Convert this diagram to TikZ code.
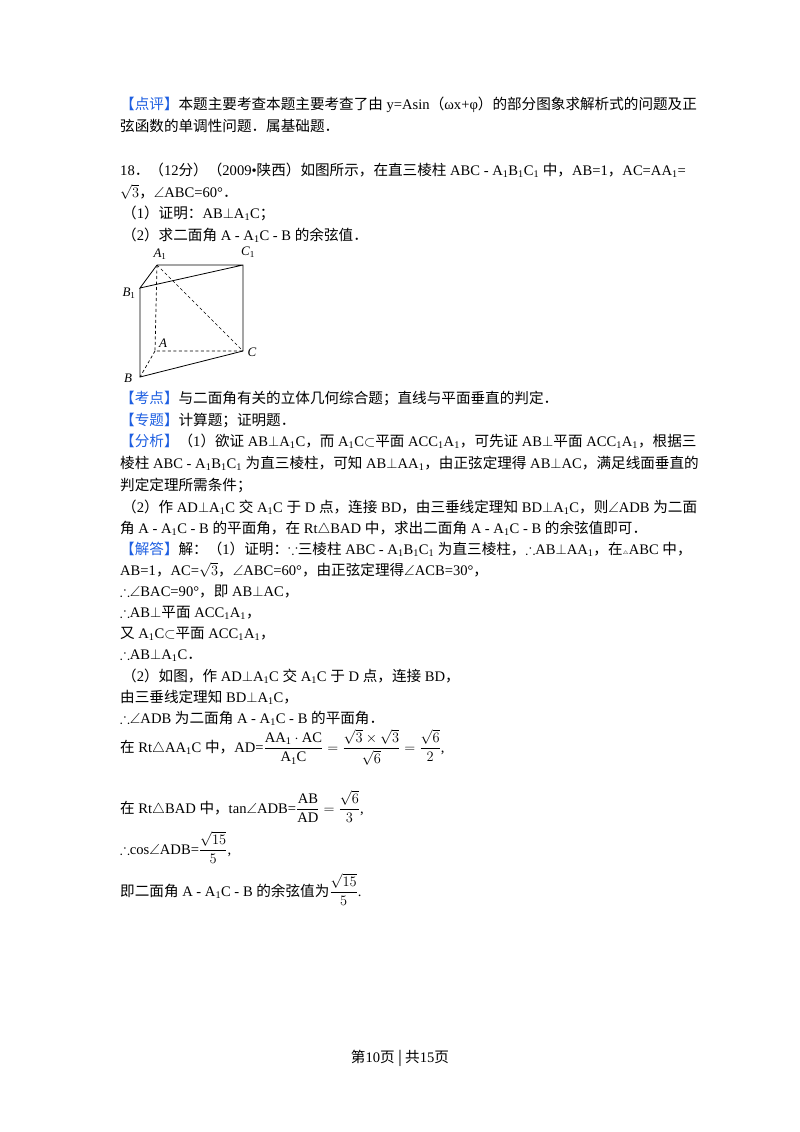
\documentclass[tikz,border=0pt]{standalone}
\usepackage{amsmath,amssymb}
\usepackage{fontspec}
\setmainfont{Liberation Serif}
\newfontfamily\cjk{Noto Sans CJK SC}
\newcommand\z[1]{{\cjk #1}}
\newcommand\Ao{A\textsubscript{1}}
\newcommand\Bo{B\textsubscript{1}}
\newcommand\Co{C\textsubscript{1}}
\newcommand\pp{$\perp$}
\newcommand\an{$\angle$}
\newcommand\so{$\therefore$}
\newcommand\bc{$\because$}
\newcommand\sbs{$\subset$}
\definecolor{hb}{RGB}{30,95,225}
\newcommand\tg[1]{\textcolor{hb}{\z{#1}}}
\begin{document}
\begin{tikzpicture}[x=1pt,y=-1pt,
  ln/.style={anchor=base west,inner sep=0pt,font=\fontsize{14.6}{16}\selectfont},
  edge/.style={line width=0.8pt},
  hid/.style={line width=0.7pt,dashed,dash pattern=on 3pt off 2.5pt},
  lab/.style={inner sep=0pt,font=\fontsize{13}{14}\selectfont\itshape}]
\useasboundingbox (0,0) rectangle (800,1132);
\node[ln] (l1) at (120,109) {\tg{【点评】}\z{本题主要考查本题主要考查了由} y=Asin\z{（}ωx+φ\z{）}\z{的部分图象求解析式的问题及正}};
\node[ln] (l2) at (120,131) {\z{弦函数的单调性问题．属基础题．}};
\node[ln] (l3) at (120,175) {18\z{．（}12\z{分）（}2009•\z{陕西）如图所示，在直三棱柱} ABC - \Ao\Bo\Co\ \z{中，}AB=1\z{，}AC=AA\textsubscript{1}=};
\node[ln] (l4) at (120,197) {$\sqrt{3}$\z{，}\an ABC=60°\z{．}};
\node[ln] (l5) at (122,218) {\z{（}1\z{）证明：}AB\pp\Ao C\z{；}};
\node[ln] (l6) at (122,240) {\z{（}2\z{）求二面角} A - \Ao C - B \z{的余弦值．}};
% figure
\coordinate (A1) at (157,265);
\coordinate (C1) at (243,265);
\coordinate (B1) at (140,288);
\coordinate (A) at (155,351);
\coordinate (C) at (243,351);
\coordinate (B) at (140,377);
\draw[edge] (A1)--(C1)--(C) (A1)--(B1)--(C1) (B1)--(B)--(C);
\draw[hid] (A1)--(A)--(C) (A)--(B) (A1)--(C);
\node[lab] (tA1) at (160,254) {A\textsubscript{\upshape 1}};
\node[lab] (tC1) at (248,252) {C\textsubscript{\upshape 1}};
\node[lab] (tB1) at (129,293) {B\textsubscript{\upshape 1}};
\node[lab] (tA) at (163,343) {A};
\node[lab] (tC) at (252,352) {C};
\node[lab] (tB) at (128,378) {B};
% analysis
\node[ln] (l7) at (120,403) {\tg{【考点】}\z{与二面角有关的立体几何综合题；直线与平面垂直的判定．}};
\node[ln] (l8) at (120,425) {\tg{【专题】}\z{计算题；证明题．}};
\node[ln] (l9) at (120,446) {\tg{【分析】}\z{（}1\z{）欲证} AB\pp\Ao C\z{，而} \Ao C\sbs\z{平面} ACC\textsubscript{1}\Ao\z{，可先证} AB\pp\z{平面} ACC\textsubscript{1}\Ao\z{，根据三}};
\node[ln] (l10) at (120,468) {\z{棱柱} ABC - \Ao\Bo\Co\ \z{为直三棱柱，可知} AB\pp AA\textsubscript{1}\z{，由正弦定理得} AB\pp AC\z{，满足线面垂直的}};
\node[ln] (l11) at (120,490) {\z{判定定理所需条件；}};
\node[ln] (l12) at (122,512) {\z{（}2\z{）作} AD\pp\Ao C \z{交} \Ao C \z{于} D \z{点，连接} BD\z{，由三垂线定理知} BD\pp\Ao C\z{，则}\an ADB \z{为二面}};
\node[ln] (l13) at (120,533) {\z{角} A - \Ao C - B \z{的平面角，在} Rt$\triangle$BAD \z{中，求出二面角} A - \Ao C - B \z{的余弦值即可．}};
\node[ln] (l14) at (120,554) {\tg{【解答】}\z{解：（}1\z{）证明：}\bc\z{三棱柱} ABC - \Ao\Bo\Co\ \z{为直三棱柱，}\so AB\pp AA\textsubscript{1}\z{，在}{\tiny$\triangle$}ABC \z{中，}};
\node[ln] (l15) at (120,575) {AB=1\z{，}AC=$\sqrt{3}$\z{，}\an ABC=60°\z{，由正弦定理得}\an ACB=30°\z{，}};
\node[ln] (l16) at (120,596) {\so\an BAC=90°\z{，即} AB\pp AC\z{，}};
\node[ln] (l17) at (120,617) {\so AB\pp\z{平面} ACC\textsubscript{1}\Ao\z{，}};
\node[ln] (l18) at (120,638) {\z{又} \Ao C\sbs\z{平面} ACC\textsubscript{1}\Ao\z{，}};
\node[ln] (l19) at (120,659) {\so AB\pp\Ao C\z{．}};
\node[ln] (l20) at (122,681) {\z{（}2\z{）如图，作} AD\pp\Ao C \z{交} \Ao C \z{于} D \z{点，连接} BD\z{，}};
\node[ln] (l21) at (120,702) {\z{由三垂线定理知} BD\pp\Ao C\z{，}};
\node[ln] (l22) at (120,723) {\so\an ADB \z{为二面角} A - \Ao C - B \z{的平面角．}};
\node[ln] (l23) at (120,752) {\z{在} Rt$\triangle$AA\textsubscript{1}C \z{中，}AD=$\dfrac{\mathrm{AA_1\cdot AC}}{\mathrm{A_1C}}=\dfrac{\sqrt3\times\sqrt3}{\sqrt6}=\dfrac{\sqrt6}{2}$,};
\node[ln] (l24) at (120,813) {\z{在} Rt$\triangle$BAD \z{中，}tan\an ADB=$\dfrac{\mathrm{AB}}{\mathrm{AD}}=\dfrac{\sqrt6}{3}$,};
\node[ln] (l25) at (120,854) {\so cos\an ADB=$\dfrac{\sqrt{15}}{5}$,};
\node[ln] (l26) at (120,896) {\z{即二面角} A - \Ao C - B \z{的余弦值为}$\dfrac{\sqrt{15}}{5}$.};
\node[ln,anchor=base] (ft) at (400,1062) {\z{第}10\z{页 | 共}15\z{页}};
\end{tikzpicture}
\end{document}
